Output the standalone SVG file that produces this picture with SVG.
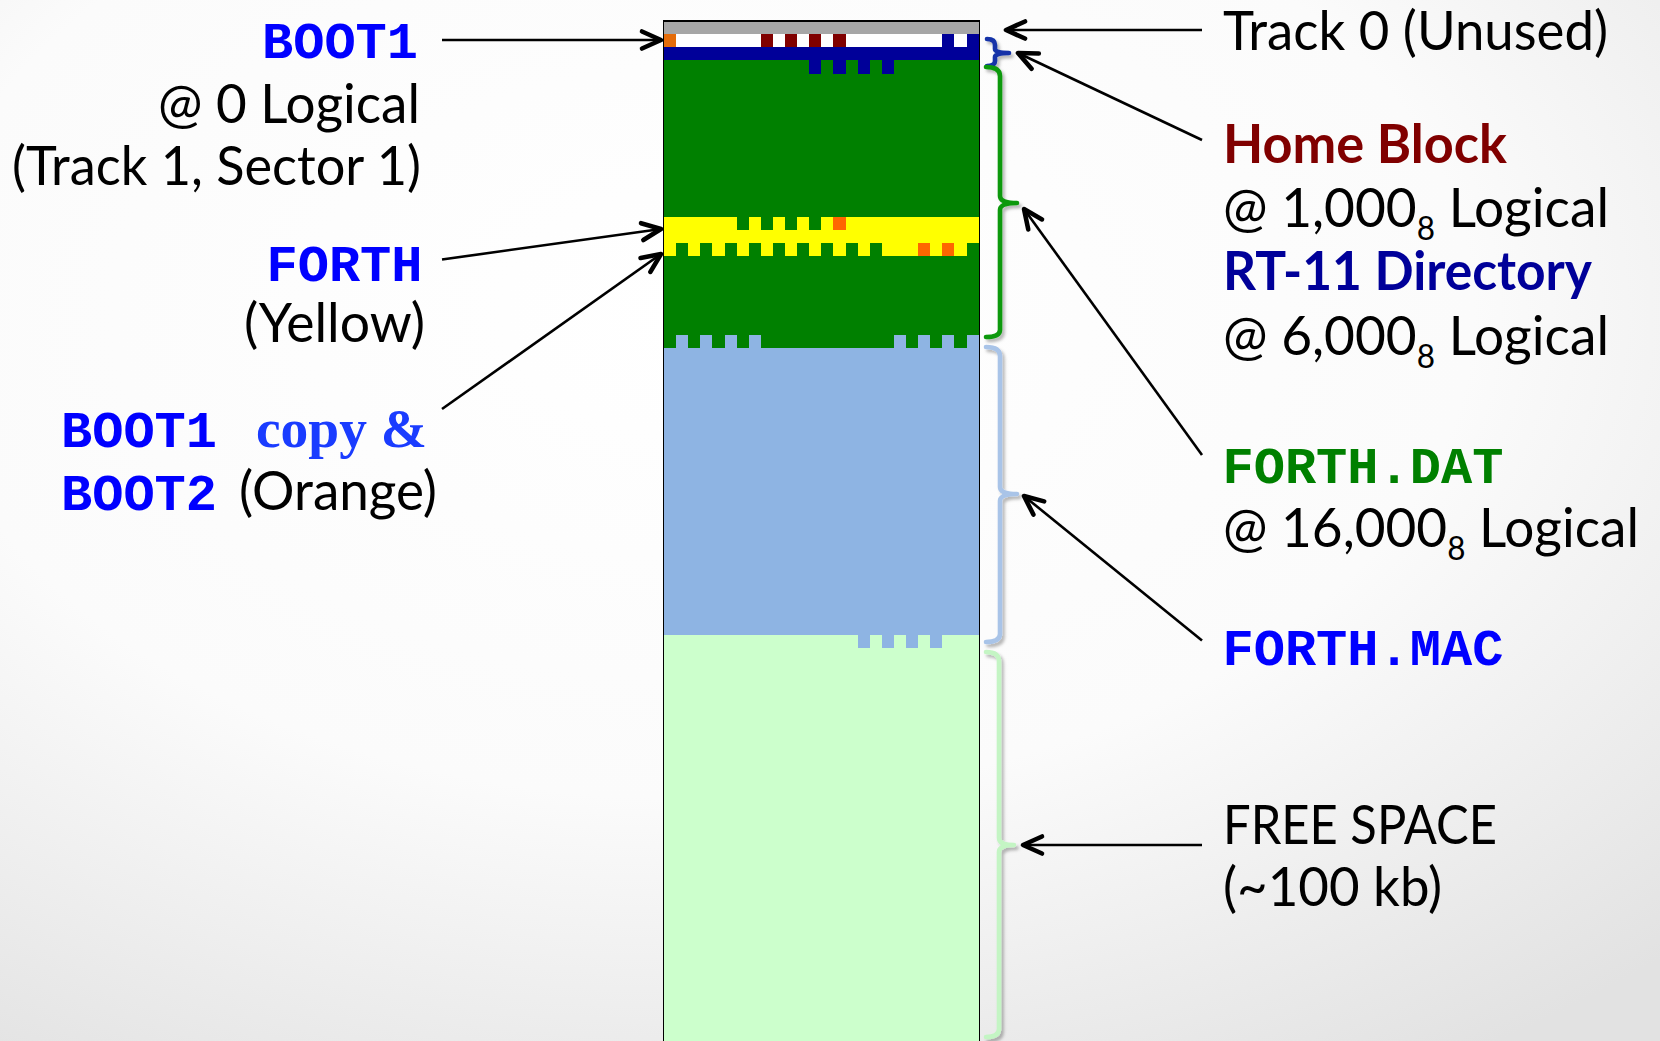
<svg xmlns="http://www.w3.org/2000/svg" width="1660" height="1041" viewBox="0 0 1660 1041">
<style>
.opt{font-family:Lato,"Open Sans","Liberation Sans",sans-serif;font-size:54px;fill:#000}
.optb{font-family:Lato,"Open Sans","Liberation Sans",sans-serif;font-size:54px;font-weight:700}
.mono{font-family:"Liberation Mono","Courier New",monospace;font-size:52px;font-weight:700}
.sub{font-size:32px}
.brace{fill:none;stroke-width:4.6;stroke-linecap:round;stroke-linejoin:round;filter:url(#sh)}
.conn{stroke:#000;stroke-width:2.6;fill:none;marker-end:url(#arr)}
</style>
<defs>
<radialGradient id="bg" cx="0.42" cy="0.3" r="0.85">
<stop offset="0" stop-color="#ffffff"/>
<stop offset="0.55" stop-color="#fbfbfb"/>
<stop offset="1" stop-color="#e2e2e2"/>
</radialGradient>
<filter id="sh" x="-50%" y="-10%" width="200%" height="120%">
<feDropShadow dx="2.5" dy="3" stdDeviation="1.8" flood-color="#000" flood-opacity="0.28"/>
</filter>
<marker id="arr" markerUnits="userSpaceOnUse" viewBox="-24 -12 28 24" refX="0" refY="0" markerWidth="28" markerHeight="24" orient="auto">
<path d="M -19 -8.5 L 0 0 L -19 8.5" fill="none" stroke="#000" stroke-width="4.6" stroke-linecap="round" stroke-linejoin="round"/>
</marker>
</defs>
<rect width="1660" height="1041" fill="url(#bg)"/>

<g id="disk-map" shape-rendering="crispEdges">
<g transform="translate(664 21.3) scale(12.1 13.05)">
<rect x="0" y="0" width="26" height="1" fill="#a6a6a6"/>
<rect x="0" y="1" width="26" height="1" fill="#ffffff"/>
<rect x="0" y="1" width="1" height="1" fill="#e46c0a"/>
<g fill="#800000"><rect x="8" y="1" width="1" height="1"/><rect x="10" y="1" width="1" height="1"/><rect x="12" y="1" width="1" height="1"/><rect x="14" y="1" width="1" height="1"/></g>
<g fill="#000099"><rect x="23" y="1" width="1" height="1"/><rect x="25" y="1" width="1" height="1"/><rect x="0" y="2" width="26" height="1"/></g>
<rect x="0" y="3" width="26" height="22" fill="#008000"/>
<g fill="#000099"><rect x="12" y="3" width="1" height="1"/><rect x="14" y="3" width="1" height="1"/><rect x="16" y="3" width="1" height="1"/><rect x="18" y="3" width="1" height="1"/></g>
<rect x="0" y="15" width="26" height="3" fill="#ffff00"/>
<g fill="#008000"><rect x="6" y="15" width="1" height="1"/><rect x="8" y="15" width="1" height="1"/><rect x="10" y="15" width="1" height="1"/><rect x="12" y="15" width="1" height="1"/>
<rect x="1" y="17" width="1" height="1"/><rect x="3" y="17" width="1" height="1"/><rect x="5" y="17" width="1" height="1"/><rect x="7" y="17" width="1" height="1"/><rect x="9" y="17" width="1" height="1"/><rect x="11" y="17" width="1" height="1"/><rect x="13" y="17" width="1" height="1"/><rect x="15" y="17" width="1" height="1"/><rect x="17" y="17" width="1" height="1"/><rect x="25" y="17" width="1" height="1"/></g>
<g fill="#ff6600"><rect x="14" y="15" width="1" height="1"/><rect x="21" y="17" width="1" height="1"/><rect x="23" y="17" width="1" height="1"/></g>
<rect x="0" y="25" width="26" height="22" fill="#8eb4e3"/>
<g fill="#8eb4e3"><rect x="1" y="24" width="1" height="1"/><rect x="3" y="24" width="1" height="1"/><rect x="5" y="24" width="1" height="1"/><rect x="7" y="24" width="1" height="1"/><rect x="19" y="24" width="1" height="1"/><rect x="21" y="24" width="1" height="1"/><rect x="23" y="24" width="1" height="1"/><rect x="25" y="24" width="1" height="1"/></g>
<rect x="0" y="47" width="26" height="35" fill="#ccffcc"/>
<g fill="#8eb4e3"><rect x="16" y="47" width="1" height="1"/><rect x="18" y="47" width="1" height="1"/><rect x="20" y="47" width="1" height="1"/><rect x="22" y="47" width="1" height="1"/></g>
</g>
<rect x="663.5" y="21" width="316" height="1030" fill="none" stroke="#000" stroke-width="1.6"/>
</g>

<g id="brace-home-block"><path class="brace" stroke="#1232a8" d="M 987 39 Q 995 39 995 45 L 995 49 Q 995 53 1009 53 Q 995 53 995 57 L 995 61 Q 995 66 987 66"/></g>
<g id="brace-forth-dat"><path class="brace" stroke="#0c990c" d="M 986 67 Q 1000 67 1000 76 L 1000 196 Q 1000 203 1017 203 Q 1000 203 1000 210 L 1000 330 Q 1000 337 986 337"/></g>
<g id="brace-forth-mac"><path class="brace" stroke="#a9c4e8" d="M 986 347 Q 1000 347 1000 356 L 1000 487 Q 1000 494 1017 494 Q 1000 494 1000 501 L 1000 634 Q 1000 642 986 642"/></g>
<g id="brace-free-space"><path class="brace" stroke="#c4f5c4" d="M 986 652 Q 999 652 999 661 L 999 838 Q 999 845 1014 845 Q 999 845 999 852 L 999 1029 Q 999 1037 986 1037"/></g>

<g id="connectors">
<line class="conn" x1="442" y1="40" x2="661" y2="40"/>
<line class="conn" x1="442" y1="259.5" x2="661" y2="229"/>
<line class="conn" x1="442" y1="409" x2="661" y2="254"/>
<line class="conn" x1="1202" y1="30" x2="1006" y2="30"/>
<line class="conn" x1="1202" y1="140" x2="1018" y2="53"/>
<line class="conn" x1="1202" y1="455" x2="1024" y2="209"/>
<line class="conn" x1="1202" y1="640.5" x2="1024" y2="496"/>
<line class="conn" x1="1202" y1="845" x2="1023" y2="845"/>
</g>

<g id="label-boot1">
<text class="mono" x="262" y="58" fill="#0000ff">BOOT1</text>
<text class="opt" x="158" y="123" textLength="262" lengthAdjust="spacingAndGlyphs">@ 0 Logical</text>
<text class="opt" x="12" y="185" textLength="409" lengthAdjust="spacingAndGlyphs">(Track 1, Sector 1)</text>
</g>
<g id="label-forth">
<text class="mono" x="266.5" y="280.5" fill="#0000ff">FORTH</text>
<text class="opt" x="244" y="342" textLength="181" lengthAdjust="spacingAndGlyphs">(Yellow)</text>
</g>
<g id="label-boot-copy">
<text class="mono" x="61" y="447" fill="#0000ff">BOOT1</text>
<text x="256" y="447" textLength="171" lengthAdjust="spacingAndGlyphs" style="font-family:'Liberation Serif','Times New Roman',serif;font-size:55px;font-weight:700;fill:#1a3cff">copy &amp;</text>
<text class="mono" x="61" y="510" fill="#0000ff">BOOT2</text>
<text class="opt" x="239" y="510" textLength="198" lengthAdjust="spacingAndGlyphs">(Orange)</text>
</g>
<g id="label-track0">
<text class="opt" x="1223" y="50" textLength="385" lengthAdjust="spacingAndGlyphs">Track 0 (Unused)</text>
</g>
<g id="label-home-block">
<text class="optb" x="1223" y="163" fill="#800000" textLength="284" lengthAdjust="spacingAndGlyphs">Home Block</text>
<text class="opt" x="1223" y="227" textLength="386" lengthAdjust="spacingAndGlyphs">@ 1,000<tspan class="sub" dy="13">8</tspan><tspan dy="-13"> Logical</tspan></text>
<text class="optb" x="1223" y="290" fill="#000099" textLength="369" lengthAdjust="spacingAndGlyphs">RT-11 Directory</text>
<text class="opt" x="1223" y="355" textLength="386" lengthAdjust="spacingAndGlyphs">@ 6,000<tspan class="sub" dy="13">8</tspan><tspan dy="-13"> Logical</tspan></text>
</g>
<g id="label-forth-dat">
<text class="mono" x="1222.5" y="482.5" fill="#008000">FORTH.DAT</text>
<text class="opt" x="1223" y="546.5" textLength="416" lengthAdjust="spacingAndGlyphs">@ 16,000<tspan class="sub" dy="13">8</tspan><tspan dy="-13"> Logical</tspan></text>
</g>
<g id="label-forth-mac">
<text class="mono" x="1222.5" y="664.5" fill="#0000ff">FORTH.MAC</text>
</g>
<g id="label-free-space">
<text class="opt" x="1223" y="844" textLength="274" lengthAdjust="spacingAndGlyphs">FREE SPACE</text>
<text class="opt" x="1223" y="906" textLength="219" lengthAdjust="spacingAndGlyphs">(~100 kb)</text>
</g>
</svg>
